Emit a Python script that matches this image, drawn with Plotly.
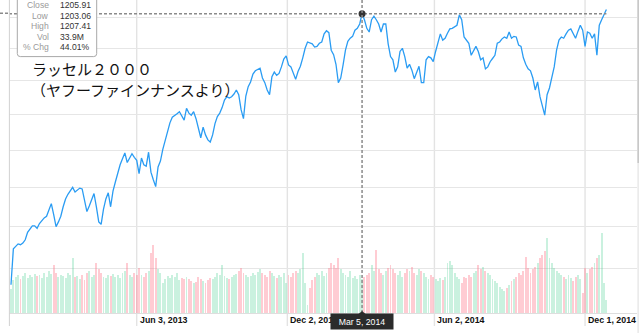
import plotly.graph_objects as go

# ---------------- data ----------------
# trading-day index (0 = Dec 27, 2012), every second session
day_index = list(range(1, 504, 2))

close = [
    831, 873,
    876, 879, 878, 880, 884, 893, 897, 901, 901, 898,
    904, 908, 911, 913, 921, 929, 915, 900, 906, 913,
    925, 935, 941, 946, 950, 944, 947, 949, 948, 932,
    919, 926, 933, 942, 925, 906, 903, 922, 935, 943, 925,
    945, 957, 969, 980, 988, 996, 983, 990, 995, 990, 986,
    968, 989, 980, 978, 997, 970, 960, 951, 977, 985,
    1001, 1014, 1024, 1038, 1046, 1048, 1051, 1054, 1048, 1042, 1059,
    1052, 1049, 1054, 1044, 1028, 1017, 1032, 1021, 1014, 1011,
    1021, 1037, 1047, 1052, 1060, 1071, 1076, 1074, 1076, 1080,
    1086, 1079, 1057, 1044, 1077, 1091, 1098, 1110, 1115, 1117, 1119, 1104,
    1097, 1086, 1079, 1106, 1113, 1108, 1111, 1121, 1133, 1138,
    1124, 1121, 1111, 1102, 1114, 1122, 1135, 1150, 1160, 1158,
    1157, 1152, 1153, 1158, 1160, 1173, 1178, 1175, 1147, 1140, 1125,
    1097, 1104, 1124, 1147, 1161, 1166, 1169, 1179, 1182,
    1189, 1205.91, 1196, 1182, 1176, 1196, 1202, 1196, 1189, 1176, 1189,
    1189, 1157, 1137, 1132, 1113, 1121, 1145, 1150, 1137, 1119,
    1125, 1116, 1103, 1113, 1122, 1097, 1097, 1132, 1137, 1135, 1129,
    1145, 1157, 1173, 1163, 1166, 1174, 1181, 1182, 1184, 1187,
    1204, 1196, 1168, 1163, 1158, 1139, 1147, 1153, 1145, 1132, 1135,
    1118, 1121, 1129, 1134, 1139, 1158, 1160, 1165, 1168, 1166, 1176,
    1166, 1169, 1168, 1155, 1153, 1135, 1125, 1118, 1115, 1104,
    1086, 1098, 1076, 1063, 1049, 1079, 1089, 1105, 1121, 1147, 1163, 1168,
    1166, 1173, 1179, 1181, 1173, 1166, 1177, 1187, 1179,
    1153, 1176, 1174, 1166, 1173, 1139, 1187, 1196, 1204, 1213,
]

volume_m = [
    24, 33,
    36, 38, 34, 37, 40, 35, 38, 36, 39, 37,
    38, 35, 40, 36, 42, 39, 48, 40, 36, 38,
    37, 35, 40, 38, 55, 36, 37, 34, 38, 33,
    40, 42, 36, 38, 50, 44, 40, 36, 35, 38, 37,
    39, 36, 38, 35, 40, 42, 50, 38, 36, 40, 38,
    45, 38, 36, 40, 42, 60, 68, 55, 44, 40,
    30, 34, 37, 35, 38, 36, 40, 33, 35, 34, 36,
    34, 32, 30, 31, 36, 34, 32, 30, 33, 35,
    34, 36, 40, 38, 48, 37, 35, 34, 36, 38,
    39, 42, 45, 40, 38, 36, 37, 40, 38, 41, 44, 40,
    38, 36, 42, 40, 37, 35, 38, 36, 40, 30,
    38, 36, 40, 42, 40, 44, 60, 30, 8, 25,
    33, 36, 40, 38, 42, 37, 40, 45, 50, 48, 45,
    55, 44, 40, 38, 36, 42, 35, 37, 34,
    38, 34, 36, 38, 40, 48, 42, 63, 44, 40, 38,
    42, 45, 48, 44, 40, 38, 42, 36, 40, 44,
    42, 46, 40, 38, 44, 42, 40, 36, 34, 38, 36,
    34, 32, 35, 33, 36, 50, 52, 48, 40, 36,
    34, 30, 36, 35, 38, 36, 40, 42, 48, 44, 46,
    42, 40, 38, 34, 32, 30, 26, 24, 22, 25, 28,
    32, 34, 36, 40, 38, 42, 56, 45, 40, 44,
    46, 50, 55, 58, 62, 75, 55, 50, 45, 42, 40, 38,
    36, 34, 38, 35, 32, 36, 38, 34, 20,
    45, 40, 44, 46, 50, 55, 58, 80, 30, 13,
]

assert len(close) == len(day_index) == len(volume_m)

tick_days = [107, 234, 358, 485]
tick_labels = ["Jun 3, 2013", "Dec 2, 2013", "Jun 2, 2014", "Dec 1, 2014"]
grid_levels = [850, 900, 950, 1000, 1050, 1100, 1150, 1200]

hover_day = 297
hover_date = "Mar 5, 2014"
hover_labels = ["Close", "Low", "High", "Vol", "% Chg"]
hover_values = ["1205.91", "1203.06", "1207.41", "33.9M", "44.01%"]

title_lines = ["ラッセル２０００", "（ヤフーファインナンスより）"]

# ---------------- geometry (layout only) ----------------
W, H = 639, 333
ML, MR, MT, MB = 9, 2, 0, 20
PW, PH = W - ML - MR, H - MT - MB
X_RANGE = [-0.675, 528.8]
PRICE_RANGE = [2.90276, 3.08951]   # log10 range
VOL_RANGE = [0, 313]


def px_x(p):
    return (p - ML) / PW


def px_y(p):
    return (MT + PH - p) / PH


hover_close = close[day_index.index(hover_day)]

up_col = "rgba(80,210,150,0.30)"
dn_col = "rgba(255,120,140,0.38)"
bar_colors = [up_col if i == 0 or close[i] >= close[i - 1] else dn_col
              for i in range(len(close))]

fig = go.Figure()

fig.add_trace(go.Bar(
    x=day_index, y=volume_m, marker=dict(color=bar_colors, line=dict(width=0)),
    width=1.6, yaxis="y", xaxis="x", hoverinfo="skip", showlegend=False))

fig.add_trace(go.Scatter(
    x=day_index, y=close, mode="lines", yaxis="y2", xaxis="x",
    line=dict(color="#2a9cf3", width=1.3), hoverinfo="skip", showlegend=False))

# horizontal crosshair (price level of hovered point)
fig.add_trace(go.Scatter(
    x=[X_RANGE[0], day_index[-1]], y=[hover_close, hover_close], mode="lines",
    yaxis="y2", xaxis="x", line=dict(color="#8a8a8a", width=1.5, dash="3px,2px"),
    hoverinfo="skip", showlegend=False))

fig.add_trace(go.Scatter(
    x=[hover_day], y=[hover_close], mode="markers", yaxis="y2", xaxis="x",
    marker=dict(color="#333333", size=7), hoverinfo="skip", showlegend=False))

shapes = []
# vertical grid lines (extend below plot)
for d in tick_days:
    shapes.append(dict(type="line", xref="x", yref="paper", x0=d, x1=d,
                       y0=px_y(326), y1=1, layer="below",
                       line=dict(color="#e3e3e3", width=1.4)))
# left boundary
shapes.append(dict(type="line", xref="paper", yref="paper", x0=px_x(9.4), x1=px_x(9.4),
                   y0=px_y(326), y1=1, line=dict(color="#d2d2d2", width=1)))
# crosshair extension left of plot
shapes.append(dict(type="line", xref="paper", yref="paper", x0=px_x(0), x1=px_x(9),
                   y0=px_y(13.3), y1=px_y(13.3),
                   line=dict(color="#8a8a8a", width=1.5, dash="3px,2px")))
# vertical crosshair
shapes.append(dict(type="line", xref="x", yref="paper", x0=hover_day, x1=hover_day,
                   y0=0, y1=1, layer="above",
                   line=dict(color="#8a8a8a", width=1.5, dash="3px,2px")))
# small pointer on date box
shapes.append(dict(type="path", xref="x", xsizemode="pixel", xanchor=hover_day,
                   yref="paper", ysizemode="pixel", yanchor=0,
                   path="M -4,-1.5 L 4,-1.5 L 0,2 Z", fillcolor="#2b2b2b",
                   line=dict(width=0), layer="above"))
# right edge strip
shapes.append(dict(type="rect", xref="paper", yref="paper", x0=px_x(637.3), x1=px_x(639.5),
                   y0=px_y(163), y1=1, fillcolor="#c8c8c8", line=dict(width=0)))
shapes.append(dict(type="rect", xref="paper", yref="paper", x0=px_x(637.3), x1=px_x(639.5),
                   y0=px_y(333), y1=px_y(163), fillcolor="#ebebeb", line=dict(width=0)))
# tooltip box (rounded)
ROW0, ROWSTEP = 5.0, 10.6
L, R, T, B, r = 17.3 - ML, 96.7 - ML, 6, -(ROW0 + 4 * ROWSTEP + 9.2), 3
shapes.append(dict(
    type="path", xref="paper", xsizemode="pixel", xanchor=0,
    yref="paper", ysizemode="pixel", yanchor=1,
    path=(f"M {L},{T} L {R},{T} L {R},{B + r} Q {R},{B} {R - r},{B} "
          f"L {L + r},{B} Q {L},{B} {L},{B + r} Z"),
    fillcolor="white", line=dict(color="#a8a8a8", width=1), layer="above"))

annotations = []
for d, lab in zip(tick_days, tick_labels):
    annotations.append(dict(
        xref="x", yref="paper", x=d, y=px_y(319.5), xanchor="left", yanchor="middle",
        xshift=1, text=f"<b>{lab}</b>", showarrow=False,
        font=dict(family="Liberation Sans, Arial", size=8.8, color="#111111")))

annotations.append(dict(
    xref="x", yref="paper", x=hover_day, y=px_y(321.5), xanchor="center",
    yanchor="middle", text=hover_date, showarrow=False, bgcolor="#2b2b2b",
    width=58, height=11, borderpad=2,
    font=dict(family="Liberation Sans, Arial", size=8.7, color="#ffffff")))

for i, (lab, val) in enumerate(zip(hover_labels, hover_values)):
    yy = px_y(ROW0 + ROWSTEP * i)
    annotations.append(dict(
        xref="paper", yref="paper", x=px_x(50.5), y=yy, xanchor="right",
        yanchor="middle", text=lab, showarrow=False,
        font=dict(family="Liberation Sans, Arial", size=8.6, color="#9a9a9a")))
    annotations.append(dict(
        xref="paper", yref="paper", x=px_x(57.5), y=yy, xanchor="left",
        yanchor="middle", text=val, showarrow=False,
        font=dict(family="Liberation Sans, Arial", size=8.6, color="#333333")))

for i, line in enumerate(title_lines):
    annotations.append(dict(
        xref="paper", yref="paper", x=px_x(30 + (0 if i == 0 else -1)),
        y=px_y(69 + 21 * i), xanchor="left", yanchor="middle",
        text=line, showarrow=False,
        font=dict(family="Noto Sans CJK JP", size=15, color="#111111")))

fig.update_layout(
    width=W, height=H,
    margin=dict(l=ML, r=MR, t=MT, b=MB, pad=0),
    paper_bgcolor="white", plot_bgcolor="white",
    showlegend=False, bargap=0,
    xaxis=dict(range=X_RANGE, showgrid=False, zeroline=False, showticklabels=False,
               ticks="", showline=True, linecolor="#dedede", linewidth=1),
    yaxis=dict(range=VOL_RANGE, showgrid=False, zeroline=False, showticklabels=False,
               ticks="", showline=False),
    yaxis2=dict(type="log", range=PRICE_RANGE, overlaying="y", side="right",
                tickvals=grid_levels, showticklabels=False, ticks="",
                showgrid=True, gridcolor="#e6e6e6", gridwidth=1.4,
                zeroline=False, showline=False),
    shapes=shapes, annotations=annotations,
)

fig.write_html("out.html")
